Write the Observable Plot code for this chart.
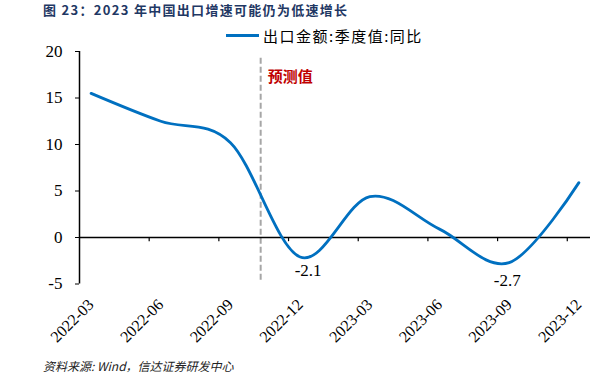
<!DOCTYPE html>
<html>
<head>
<meta charset="utf-8">
<script src="https://cdn.jsdelivr.net/npm/d3@7"></script>
<script src="https://cdn.jsdelivr.net/npm/@observablehq/plot@0.6"></script>
<style>
  html, body { margin: 0; padding: 0; background: #fff; }
  #wrap { position: relative; width: 612px; height: 377px; overflow: hidden; background: #fff; }
  #title { position: absolute; left: 43px; top: 3.5px; font-family: "Noto Sans CJK SC", sans-serif; font-weight: bold; font-size: 13px; letter-spacing: 1.3px; color: #1F3864; line-height: 12px; white-space: nowrap; }
  #legend { position: absolute; left: 226px; top: 26px; height: 18px; display: flex; align-items: center; white-space: nowrap; }
  #legend .swatch { width: 33px; height: 3px; background: #0070C0; margin-right: 4px; }
  #legend .lab { font-family: "Noto Sans CJK SC", sans-serif; font-size: 15px; letter-spacing: 1.5px; color: #000; }
  #footer { position: absolute; left: 43px; top: 357px; font-family: "Noto Sans CJK SC", sans-serif; font-style: italic; font-size: 12px; color: #222; white-space: nowrap; }
  #chart { position: absolute; left: 0; top: 0; }
</style>
</head>
<body>
<div id="wrap">
  <div id="chart"></div>
  <div id="title">图 23：2023 年中国出口增速可能仍为低速增长</div>
  <div id="legend"><div class="swatch"></div><div class="lab">出口金额:季度值:同比</div></div>
  <div id="footer">资料来源: Wind，信达证券研发中心</div>
</div>
<script>
// ---- data ----
const quarters = ["2022-03", "2022-06", "2022-09", "2022-12", "2023-03", "2023-06", "2023-09", "2023-12"];
const exportYoY = [15.5, 12.5, 10.2, -2.1, 4.4, 0.9, -2.7, 5.9];
const monthsPerQuarter = 3;
const yTicks = [-5, 0, 5, 10, 15, 20];
const forecastStart = 7.3;            // month index where forecast begins
const forecastLabel = "预测值";
const labelA = {q: "2022-12", v: -2.1};
const labelB = {q: "2023-09", v: -2.7};

const monthIndex = q => quarters.indexOf(q) * monthsPerQuarter;
const series = quarters.map((q, i) => ({x: monthIndex(q), y: exportYoY[i], q}));
const xTickPos = d3.range(-0.5 + monthsPerQuarter, 21, monthsPerQuarter);

const serif = "'Liberation Serif', 'Times New Roman', serif";

const chart = Plot.plot({
  width: 612,
  height: 377,
  marginLeft: 79,
  marginRight: 22,
  marginTop: 51,
  marginBottom: 93.5,
  style: {fontFamily: serif, color: "#000", background: "transparent", overflow: "visible"},
  x: {domain: [-0.5, 21.5], axis: null},
  y: {domain: [-5, 20], axis: null},
  marks: [
    // forecast divider
    Plot.ruleX([forecastStart], {y1: -4.6, y2: 19.5, stroke: "#A6A6A6", strokeWidth: 2, strokeDasharray: "6,3"}),
    Plot.text([forecastLabel], {x: forecastStart, frameAnchor: "top", dy: 20, dx: 7, textAnchor: "start",
      fill: "#C00000", fontSize: 15, fontWeight: "bold", fontFamily: "'Noto Sans CJK SC', sans-serif"}),
    // y axis
    Plot.ruleX([-0.5], {y1: -5, y2: 20, stroke: "#000", strokeWidth: 1.5}),
    Plot.axisY({ticks: yTicks, tickSize: 4, tickPadding: 13, fontSize: 17, tickFormat: d => String(d), label: null, stroke: "#000"}),
    // x axis at zero
    Plot.ruleY([0], {stroke: "#000", strokeWidth: 1.5}),
    Plot.ruleX(xTickPos, {y1: 0, y2: -0.45, stroke: "#000", strokeWidth: 1.2}),
    Plot.text(quarters, {x: (d, i) => i * monthsPerQuarter, frameAnchor: "bottom", dy: 18, dx: 0,
      rotate: -45, textAnchor: "end", lineAnchor: "middle", fontSize: 16, fill: "#000"}),
    // series
    Plot.line(series, {x: "x", y: "y", curve: "cardinal", tension: 0, stroke: "#0070C0", strokeWidth: 2.8}),
    // value labels
    Plot.text([labelA], {x: d => monthIndex(d.q), y: "v", text: d => String(d.v), dy: 14, dx: 8, fontSize: 17, fill: "#000"}),
    Plot.text([labelB], {x: d => monthIndex(d.q), y: "v", text: d => String(d.v), dy: 18, dx: -2, fontSize: 17, fill: "#000"}),
  ]
});
document.getElementById("chart").appendChild(chart);
</script>
</body>
</html>
